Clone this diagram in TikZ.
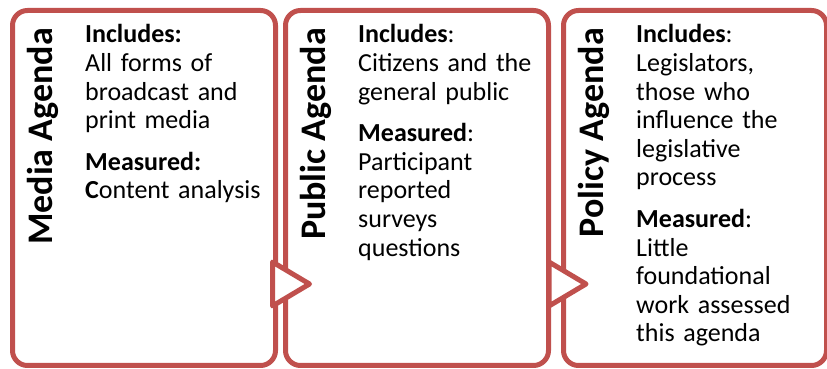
\documentclass[tikz,border=0pt]{standalone}
\usepackage{fontspec}
\setmainfont{Carlito}
\usetikzlibrary{positioning,shapes.geometric}
\definecolor{agendared}{RGB}{192,80,77}

\begin{document}
\begin{tikzpicture}[x=1pt,y=1pt,
agenda/.style={rectangle, draw=agendared, line width=5pt, rounded corners=15pt, minimum width=263pt, minimum height=355pt, inner sep=0pt, outer sep=0pt},
title/.style={rotate=90, anchor=base east, inner sep=0pt, font=\fontsize{36}{40}\selectfont\bfseries},
body/.style={anchor=base west, align=left, text width=200pt, inner sep=0pt, font=\fontsize{26}{28.6}\selectfont},
flow/.style={isosceles triangle, isosceles triangle stretches, minimum width=44pt, minimum height=37pt, inner sep=0pt, draw=agendared, fill=white, line width=5pt, line join=round, anchor=west}]

\useasboundingbox (0,0) rectangle (827,369);

\node(media) [agenda] at (144,181) {};
\node(public) [agenda, right = 10pt of media] {};
\node(policy) [agenda, right = 15pt of public] {};

\node(mediatitle) [title] at ([shift={(39.5,-17.5)}]media.north west) {Media Agenda};
\node(publictitle) [title] at ([shift={(39.5,-17.5)}]public.north west) {Public Agenda};
\node(policytitle) [title] at ([shift={(39.5,-17.5)}]policy.north west) {Policy Agenda};

\node(mediatext) [body] at ([shift={(72.5,-32.5)}]media.north west) {\textbf{Includes:}\\All forms of\\broadcast and\\print media\\[13pt]\textbf{Measured:}\\\textbf{C}ontent analysis};
\node(publictext) [body] at ([shift={(72.5,-32.5)}]public.north west) {\textbf{Includes}:\\Citizens and the\\general public\\[13pt]\textbf{Measured}:\\Participant\\reported\\surveys\\questions};
\node(policytext) [body] at ([shift={(72.5,-32.5)}]policy.north west) {\textbf{Includes}:\\Legislators,\\those who\\influence the\\legislative\\process\\[13pt]\textbf{Measured}:\\Little\\foundational\\work assessed\\this agenda};

\node(flow1) [flow] at ([shift={(-5.5,-96)}]media.east) {};
\node(flow2) [flow] at ([shift={(-2,-96)}]public.east) {};
\end{tikzpicture}
\end{document}
